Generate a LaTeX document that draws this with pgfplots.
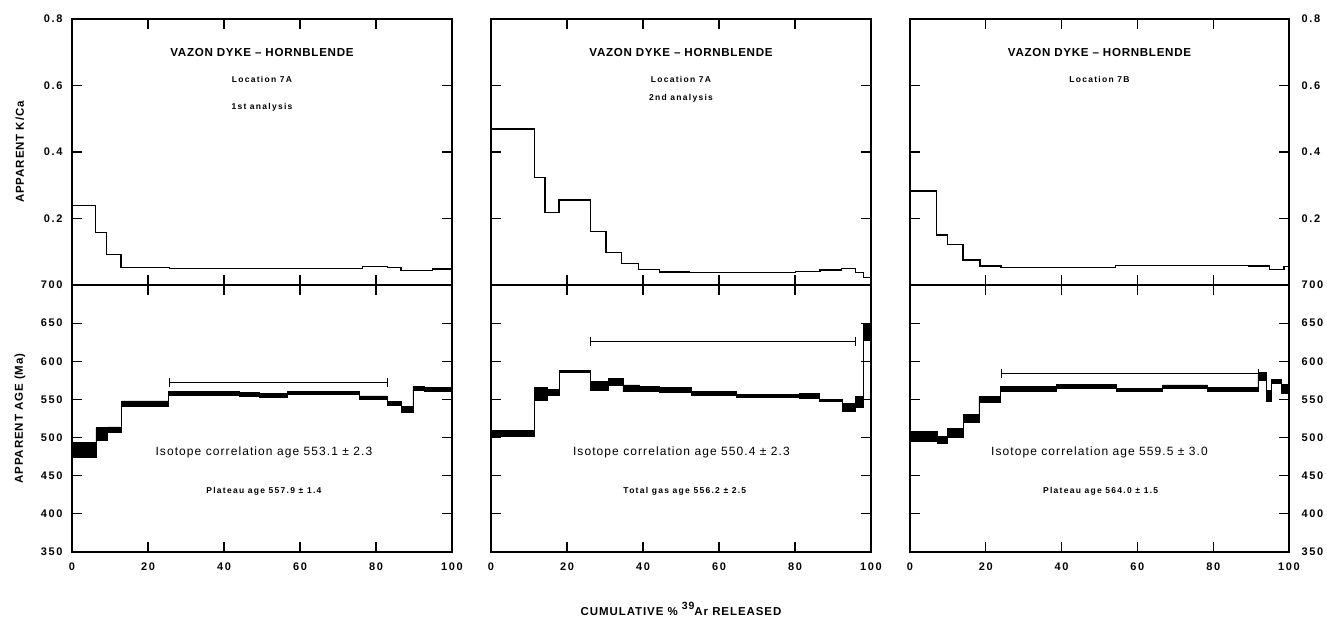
\documentclass[border=0pt]{standalone}
\usepackage{fontspec}
\setmainfont{Liberation Sans}
\newfontfamily\tickfont[LetterSpace=15]{Liberation Sans}
\newfontfamily\titlefont[LetterSpace=6]{Liberation Sans}
\newfontfamily\smallfont[LetterSpace=15]{Liberation Sans}
\newfontfamily\isofont[LetterSpace=9]{Liberation Sans}
\newfontfamily\labfont[LetterSpace=8]{Liberation Sans}
\usepackage{pgfplots}
\usepackage{pgfplotstable}
\pgfplotsset{compat=1.18}

% K/Ca spectra (step starts, last row closes at 100 %)
\pgfplotstableread{
x k
0 0.240
6.1 0.157
9.0 0.092
12.9 0.052
25.6 0.049
50.0 0.050
76.5 0.055
83.0 0.052
86.6 0.044
94.9 0.048
100 0.048
}\kcaA
\pgfplotstableread{
x k
0 0.469
11.5 0.323
14.2 0.217
17.9 0.256
26.2 0.160
30.3 0.097
34.4 0.065
38.8 0.047
44.3 0.039
52.2 0.037
80.1 0.040
86.6 0.045
92.3 0.049
95.9 0.038
98.1 0.022
100 0.022
}\kcaB
\pgfplotstableread{
x k
0 0.283
7.0 0.150
9.9 0.122
14.0 0.075
18.5 0.057
24.0 0.053
54.2 0.059
89.4 0.057
94.8 0.047
98.7 0.055
100 0.055
}\kcaC

% age spectra as outlines: upper edge left to right, lower edge back
\pgfplotstableread{
x y
0 494
6.3 494
6.3 513
9.4 513
9.4 514
13.1 514
13.1 548
25.4 548
25.4 560
44 560
44 559
49.3 559
49.3 557.5
56.8 557.5
56.8 560
75.6 560
75.6 554.5
82.9 554.5
82.9 547
86.6 547
86.6 540.5
89.7 540.5
89.7 567.5
92.7 567.5
92.7 566
100 566
100 560
92.7 560
92.7 562.5
89.7 562.5
89.7 533
86.6 533
86.6 542
82.9 542
82.9 550
75.6 550
75.6 557
56.8 557
56.8 553
49.3 553
49.3 554.5
44 554.5
44 556
25.4 556
25.4 541
13.1 541
13.1 507
9.4 507
9.4 497
6.3 497
6.3 474
0 474
0 494
}\ageA
\pgfplotstableread{
x y
0 509
11.5 509
11.5 566
14.8 566
14.8 563.5
18.1 563.5
18.1 588.5
26.2 588.5
26.2 574
30.8 574
30.8 577.5
34.7 577.5
34.7 569
39.1 569
39.1 567.5
44.4 567.5
44.4 565.5
52.7 565.5
52.7 561
64.5 561
64.5 557
81.1 557
81.1 558
86.4 558
86.4 550.5
92.5 550.5
92.5 545
96 545
96 553.5
98 553.5
98 649
100 649
100 628
98 628
98 540
96 540
96 535
92.5 535
92.5 547
86.4 547
86.4 551.5
81.1 551.5
81.1 553
64.5 553
64.5 556
52.7 556
52.7 559
44.4 559
44.4 561
39.1 561
39.1 560
34.7 560
34.7 568
30.8 568
30.8 562.5
26.2 562.5
26.2 585
18.1 585
18.1 556
14.8 556
14.8 549
11.5 549
11.5 501
0 501
0 509
}\ageB
\pgfplotstableread{
x y
0 508
7.3 508
7.3 501
9.9 501
9.9 512
14 512
14 530.5
18.2 530.5
18.2 553.7
23.8 553.7
23.8 566.8
38.6 566.8
38.6 570
54.4 570
54.4 564.6
66.7 564.6
66.7 569
78.5 569
78.5 566
91.8 566
91.8 585
94 585
94 562
95.3 562
95.3 576.5
97.9 576.5
97.9 570
100 570
100 558
97.9 558
97.9 571
95.3 571
95.3 547
94 547
94 575.5
91.8 575.5
91.8 560
78.5 560
78.5 564
66.7 564
66.7 560.2
54.4 560.2
54.4 564.6
38.6 564.6
38.6 560
23.8 560
23.8 546
18.2 546
18.2 519.6
14 519.6
14 500.4
9.9 500.4
9.9 492.5
7.3 492.5
7.3 495.6
0 495.6
0 508
}\ageC

\pgfplotsset{
  panel/.style={
    scale only axis, anchor=south west,
    xmin=0, xmax=100, xtick={0,20,...,100},
    tick align=inside, major tick length=10pt,
    axis line style={line width=1.3pt},
    every tick/.style={black, line width=1.2pt},
    /pgf/number format/assume math mode=true,
    tick label style={font=\tickfont\bfseries\fontsize{11}{13}\selectfont},
    xticklabel style={yshift=-7pt},
  },
  kca/.style={panel, height=266pt, ymin=0, ymax=0.8,
    ytick={0.2,0.4,0.6,0.8}, xticklabels={}},
  age/.style={panel, height=267pt, ymin=350, ymax=700,
    ytick={350,400,...,700}},
  leftlab/.style={yticklabel style={xshift=-6pt}},
  rightlab/.style={yticklabel pos=right, yticklabel style={xshift=9pt}},
  nolab/.style={yticklabels={}},
  vlab/.style={ylabel style={at={(axis description cs:-0.137,0.5)}, anchor=center,
    font=\labfont\bfseries\fontsize{11.5}{13}\selectfont}},
  kline/.style={const plot, black, line width=1.3pt},
  band/.style={black, fill=black, line width=0.7pt},
  plat/.style={black, line width=0.8pt, mark=|, mark size=4.5pt, mark options={solid, line width=0.8pt}},
}
\newcommand\ttl{\titlefont\bfseries\fontsize{11.6}{13}\selectfont}
\newcommand\sml{\smallfont\bfseries\fontsize{8.5}{10}\selectfont}
\newcommand\iso{\isofont\fontsize{12}{14}\selectfont}

\begin{document}
\begin{tikzpicture}
\path[use as bounding box] (0pt,0pt) rectangle (1327pt,618pt);

% ---------- panel 1 ----------
\begin{axis}[kca, leftlab, vlab, width=380pt, at={(72pt,333pt)}, ylabel={APPARENT K/Ca}]
\addplot[kline] table[x=x, y=k] {\kcaA};
\node[font=\ttl] at (axis cs:50,0.70) {VAZON DYKE – HORNBLENDE};
\node[font=\sml] at (axis cs:50,0.617) {Location 7A};
\node[font=\sml] at (axis cs:50,0.535) {1st analysis};
\end{axis}
\begin{axis}[age, leftlab, vlab, width=380pt, at={(72pt,66pt)}, ylabel={APPARENT AGE (Ma)}]
\addplot[band] table[x=x, y=y] {\ageA};
\addplot[plat] coordinates {(25.6,572) (83.1,572)};
\node[font=\iso] at (axis cs:50.5,481) {Isotope correlation age 553.1 ± 2.3};
\node[font=\sml] at (axis cs:50.5,430) {Plateau age 557.9 ± 1.4};
\end{axis}

% ---------- panel 2 ----------
\begin{axis}[kca, nolab, width=380pt, at={(491pt,333pt)}]
\addplot[kline] table[x=x, y=k] {\kcaB};
\node[font=\ttl] at (axis cs:50,0.70) {VAZON DYKE – HORNBLENDE};
\node[font=\sml] at (axis cs:50,0.617) {Location 7A};
\node[font=\sml] at (axis cs:50,0.56) {2nd analysis};
\end{axis}
\begin{axis}[age, nolab, width=380pt, at={(491pt,66pt)},
  xlabel={CUMULATIVE \% \raisebox{0.5em}{\fontsize{10.5}{12}\selectfont 39}Ar RELEASED},
  xlabel style={at={(axis description cs:0.5,-0.236)}, anchor=base,
    font=\labfont\bfseries\fontsize{11.5}{13}\selectfont}]
\addplot[band] table[x=x, y=y] {\ageB};
\addplot[plat] coordinates {(26.2,626.5) (95.8,626.5)};
\node[font=\iso] at (axis cs:50.1,481) {Isotope correlation age 550.4 ± 2.3};
\node[font=\sml] at (axis cs:51,429) {Total gas age 556.2 ± 2.5};
\end{axis}

% ---------- panel 3 ----------
\begin{axis}[kca, rightlab, width=379pt, at={(910pt,333pt)}]
\addplot[kline] table[x=x, y=k] {\kcaC};
\node[font=\ttl] at (axis cs:50,0.70) {VAZON DYKE – HORNBLENDE};
\node[font=\sml] at (axis cs:50,0.617) {Location 7B};
\end{axis}
\begin{axis}[age, rightlab, width=379pt, at={(910pt,66pt)}]
\addplot[band] table[x=x, y=y] {\ageC};
\addplot[plat] coordinates {(24.1,584.5) (91.8,584.5)};
\node[font=\iso] at (axis cs:50,481) {Isotope correlation age 559.5 ± 3.0};
\node[font=\sml] at (axis cs:50.3,430) {Plateau age 564.0 ± 1.5};
\end{axis}
\end{tikzpicture}
\end{document}
